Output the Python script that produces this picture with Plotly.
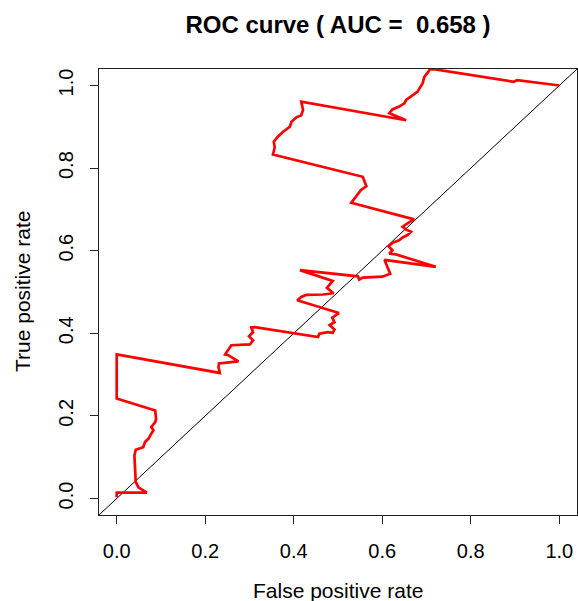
import plotly.graph_objects as go

# ROC curve points (false positive rate, true positive rate)
fpr = [0.000, 0.000, 0.068, 0.049, 0.043, 0.042, 0.040, 0.043, 0.051, 0.060,
       0.064, 0.072, 0.078, 0.083, 0.078, 0.087, 0.089, 0.087, 0.000, 0.000,
       0.233, 0.230, 0.231, 0.244, 0.259, 0.275, 0.252, 0.245, 0.259, 0.301,
       0.308, 0.299, 0.308, 0.304, 0.312, 0.455, 0.458, 0.477, 0.488, 0.492,
       0.481, 0.492, 0.487, 0.502, 0.408, 0.417, 0.428, 0.466, 0.490, 0.475,
       0.488, 0.414, 0.545, 0.548, 0.556, 0.600, 0.618, 0.613, 0.605, 0.721,
       0.631, 0.616, 0.623, 0.614, 0.623, 0.638, 0.646, 0.657, 0.665, 0.654,
       0.646, 0.657, 0.672, 0.530, 0.552, 0.564, 0.556, 0.353, 0.357, 0.355,
       0.364, 0.376, 0.391, 0.395, 0.406, 0.417, 0.421, 0.417, 0.654, 0.616,
       0.623, 0.638, 0.650, 0.654, 0.668, 0.680, 0.684, 0.691, 0.695, 0.702,
       0.708, 0.720, 0.897, 0.905, 1.000]
tpr = [0.003, 0.014, 0.014, 0.027, 0.040, 0.084, 0.104, 0.118, 0.120, 0.124,
       0.137, 0.145, 0.157, 0.165, 0.173, 0.185, 0.193, 0.213, 0.242, 0.349,
       0.304, 0.318, 0.327, 0.329, 0.331, 0.332, 0.347, 0.349, 0.371, 0.373,
       0.383, 0.393, 0.403, 0.414, 0.415, 0.391, 0.399, 0.403, 0.401, 0.409,
       0.420, 0.427, 0.438, 0.449, 0.480, 0.488, 0.493, 0.494, 0.497, 0.510,
       0.527, 0.553, 0.538, 0.530, 0.535, 0.537, 0.544, 0.558, 0.578, 0.561,
       0.591, 0.593, 0.601, 0.611, 0.619, 0.625, 0.632, 0.638, 0.646, 0.651,
       0.658, 0.666, 0.676, 0.716, 0.747, 0.756, 0.779, 0.833, 0.850, 0.864,
       0.876, 0.888, 0.900, 0.912, 0.923, 0.928, 0.941, 0.961, 0.916, 0.933,
       0.942, 0.949, 0.957, 0.965, 0.977, 0.985, 0.993, 1.005, 1.021, 1.031,
       1.039, 1.039, 1.009, 1.013, 1.000]

tick_vals = [0.0, 0.2, 0.4, 0.6, 0.8, 1.0]
tick_text = ["0.0", "0.2", "0.4", "0.6", "0.8", "1.0"]
axis_range = [-0.04, 1.04]
auc_value = 0.658

FONT = "'Liberation Sans', Arial, Helvetica, sans-serif"

fig = go.Figure()
# reference diagonal y = x across the whole plotting region
fig.add_trace(go.Scatter(x=axis_range, y=axis_range, mode="lines",
                         line=dict(color="black", width=1), hoverinfo="skip"))
fig.add_trace(go.Scatter(x=fpr, y=tpr, mode="lines",
                         line=dict(color="#ff0000", width=2.7)))

axis_common = dict(range=axis_range, tickvals=tick_vals, ticktext=tick_text,
                   ticks="outside", ticklen=8, tickwidth=1, tickcolor="#222",
                   showline=True, linecolor="#222", linewidth=1, mirror=True,
                   showgrid=False, zeroline=False,
                   tickfont=dict(family=FONT, size=20, color="black"))

fig.update_layout(
    width=578, height=601,
    margin=dict(l=99, r=1, t=69, b=86),
    paper_bgcolor="white", plot_bgcolor="white",
    showlegend=False,
    font=dict(family=FONT, color="black"),
    title=dict(text="<b>ROC curve ( AUC =  %.3f )</b>" % auc_value,
               font=dict(family=FONT, size=24, color="black"),
               x=0.5, xref="paper", xanchor="center",
               y=1 - 25 / 601, yref="container", yanchor="middle"),
    xaxis=dict(**axis_common, ticklabelstandoff=10),
    yaxis=dict(**axis_common, tickangle=-90, ticklabelstandoff=9),
    annotations=[
        dict(text="False positive rate", xref="paper", yref="paper",
             x=0.5, y=0, xanchor="center", yanchor="middle", yshift=-75,
             showarrow=False, font=dict(family=FONT, size=21, color="black")),
        dict(text="True positive rate", xref="paper", yref="paper",
             x=0, y=0.5, xanchor="center", yanchor="middle", xshift=-77,
             textangle=-90, showarrow=False,
             font=dict(family=FONT, size=21, color="black")),
    ],
)

fig.write_html(
    "out.html",
    config={"displayModeBar": False},
    post_script="document.body.style.margin='0px';"
                "document.body.style.overflow='hidden';",
)
